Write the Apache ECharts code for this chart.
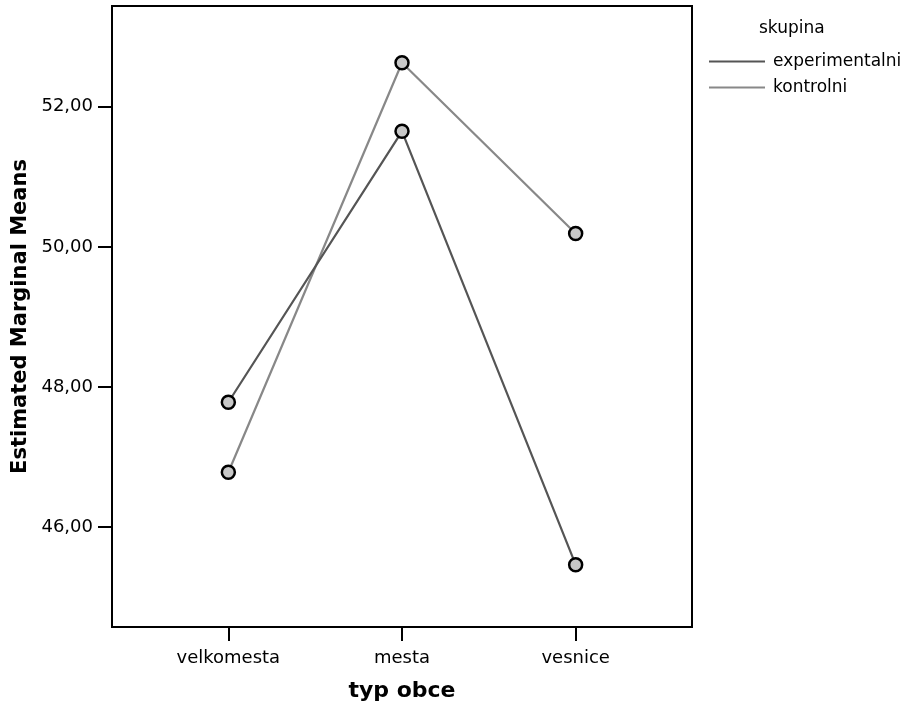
<!DOCTYPE html>
<html><head><meta charset="utf-8">
<script src="https://cdn.jsdelivr.net/npm/echarts@6/dist/echarts.min.js"></script>
<style>html,body{margin:0;padding:0;background:#fff}#c{width:902px;height:704px}</style>
</head><body><div id="c"></div>
<script>
var categories = ['velkomesta', 'mesta', 'vesnice'];
var experimentalni = [47.78, 51.65, 45.46];
var kontrolni = [46.78, 52.63, 50.19];
var yTicks = [46, 48, 50, 52];

var FONT = '"DejaVu Sans", sans-serif';
function pts(arr){ return arr.map(function(v,i){ return [i+1, v]; }); }

var chart = echarts.init(document.getElementById('c'), null, {renderer:'canvas'});
chart.setOption({
  animation:false,
  backgroundColor:'#fff',
  grid:{left:112,right:210,top:6,bottom:77,outerBoundsMode:'none',containLabel:false,
    show:true,borderColor:'#000',borderWidth:2,backgroundColor:'transparent'},
  xAxis:{
    type:'value', min:0.33, max:3.67,
    name:'typ obce', nameLocation:'middle', nameGap:53,
    nameTextStyle:{fontFamily:FONT,fontSize:22,fontWeight:'bold',color:'#000'},
    axisLine:{show:true,lineStyle:{color:'#000',width:2}},
    axisTick:{show:true,length:14,inside:false,lineStyle:{color:'#000',width:2},customValues:[1,2,3]},
    axisLabel:{customValues:[1,2,3],margin:22,fontFamily:FONT,fontSize:18,color:'#000',
      formatter:function(v){ return categories[Math.round(v)-1] || ''; }},
    splitLine:{show:false}
  },
  yAxis:{
    type:'value', min:44.57, max:53.44,
    name:'Estimated Marginal Means', nameLocation:'middle', nameGap:78, nameRotate:90,
    nameTextStyle:{fontFamily:FONT,fontSize:21,fontWeight:'bold',color:'#000'},
    axisLine:{show:true,lineStyle:{color:'#000',width:2}},
    axisTick:{show:true,length:14,lineStyle:{color:'#000',width:2},customValues:yTicks},
    axisLabel:{customValues:yTicks,margin:19,fontFamily:FONT,fontSize:18,color:'#000',
      formatter:function(v){ return v.toFixed(2).replace('.', ','); }},
    splitLine:{show:false}
  },
  legend:{
    left:704, top:48, orient:'vertical', itemGap:9,
    icon:'rect', itemWidth:56, itemHeight:2,
    textStyle:{fontFamily:FONT,fontSize:17,color:'#000',padding:[0,0,0,3]},
    data:[
      {name:'experimentalni', itemStyle:{color:'#555',borderWidth:0}},
      {name:'kontrolni', itemStyle:{color:'#888',borderWidth:0}}
    ]
  },
  graphic:[{type:'text',left:759,top:20,style:{text:'skupina',fontFamily:FONT,fontSize:17,fill:'#000'}}],
  series:[
    {name:'kontrolni',type:'line',data:pts(kontrolni),symbol:'circle',symbolSize:13,
      lineStyle:{color:'#888',width:2.2},
      itemStyle:{color:'#c8c8c8',borderColor:'#000',borderWidth:2.5}},
    {name:'experimentalni',type:'line',data:pts(experimentalni),symbol:'circle',symbolSize:13,
      lineStyle:{color:'#555',width:2.2},
      itemStyle:{color:'#c8c8c8',borderColor:'#000',borderWidth:2.5}}
  ]
});
</script></body></html>
